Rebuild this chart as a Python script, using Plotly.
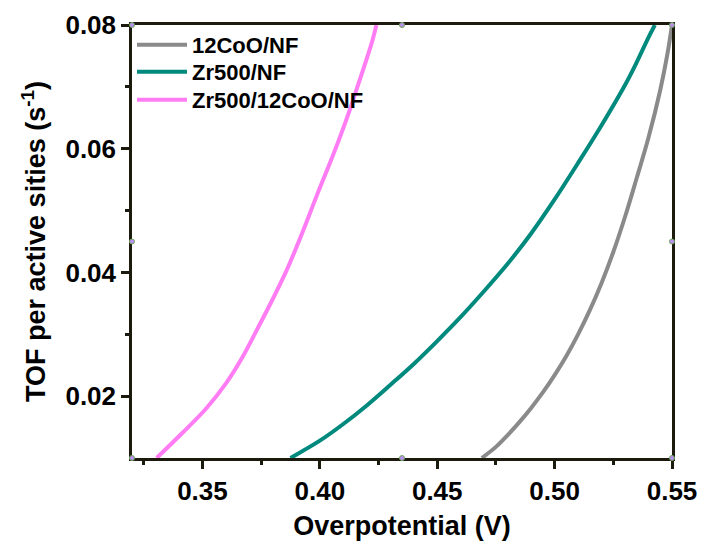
import plotly.graph_objects as go

# Overpotential (V) vs TOF per active site (s^-1)
coo_x = [0.469, 0.475, 0.480, 0.485, 0.490, 0.495, 0.500, 0.505, 0.510, 0.515,
         0.520, 0.525, 0.530, 0.535, 0.540, 0.545, 0.548, 0.550]
coo_y = [0.0100, 0.0118, 0.0137, 0.0158, 0.0181, 0.0206, 0.0234, 0.0265, 0.0300, 0.0339,
         0.0383, 0.0433, 0.0490, 0.0553, 0.0618, 0.0695, 0.0752, 0.0800]

zr_x = [0.3875, 0.400, 0.410, 0.420, 0.430, 0.440, 0.450, 0.460, 0.470, 0.480,
        0.490, 0.500, 0.510, 0.520, 0.530, 0.535, 0.540, 0.5427]
zr_y = [0.0100, 0.0128, 0.0155, 0.0185, 0.0218, 0.0252, 0.0289, 0.0328, 0.0370, 0.0414,
        0.0463, 0.0518, 0.0577, 0.0638, 0.0703, 0.0740, 0.0780, 0.0800]

zrcoo_x = [0.3305, 0.3413, 0.3516, 0.3601, 0.3669, 0.3733, 0.3797, 0.3857, 0.3905,
           0.3950, 0.3995, 0.4041, 0.4085, 0.4125, 0.4160, 0.4195, 0.4224, 0.4241]
zrcoo_y = [0.0100, 0.0140, 0.0180, 0.0221, 0.0262, 0.0308, 0.0355, 0.0402, 0.0445,
           0.0488, 0.0532, 0.0575, 0.0618, 0.0660, 0.0700, 0.0740, 0.0775, 0.0800]

series = [
    ("12CoO/NF", coo_x, coo_y, "#8a8a8a", "legend"),
    ("Zr500/NF", zr_x, zr_y, "#00897d", "legend2"),
    ("Zr500/12CoO/NF", zrcoo_x, zrcoo_y, "#ff7cf4", "legend3"),
]

x_ticks = [0.35, 0.40, 0.45, 0.50, 0.55]
y_ticks = [0.02, 0.04, 0.06, 0.08]

FONT = "Liberation Sans, Arial, sans-serif"
AXIS_COLOR = "#1c1a0c"

fig = go.Figure()
for name, xs, ys, color, lg in series:
    fig.add_trace(go.Scatter(
        x=xs, y=ys, mode="lines", name=name, legend=lg,
        line=dict(color=color, width=4, shape="spline", smoothing=1.0),
    ))

legend_style = dict(
    x=0.0, xanchor="left", yanchor="middle",
    bgcolor="rgba(0,0,0,0)", borderwidth=0,
    font=dict(family=FONT, size=22, color="black", weight="bold"),
    itemwidth=50,
)
plot_h = 547 - 25 - 89
fig.update_layout(
    legend=dict(y=1 - (45 - 25) / plot_h, **legend_style),
    legend2=dict(y=1 - (72 - 25) / plot_h, **legend_style),
    legend3=dict(y=1 - (100 - 25) / plot_h, **legend_style),
)

# Small selection handles at the frame corners and edge midpoints
for px, py in [(0, 0), (0.5, 0), (1, 0), (0, 0.5), (1, 0.5), (0, 1), (0.5, 1), (1, 1)]:
    fig.add_shape(type="circle", xref="paper", yref="paper",
                  xsizemode="pixel", ysizemode="pixel",
                  xanchor=px, yanchor=py, x0=-2.5, x1=2.5, y0=-2.5, y1=2.5,
                  fillcolor="#b98ff0", line=dict(color="#6fa65a", width=1),
                  layer="above")

axis_common = dict(
    showgrid=False, zeroline=False, showline=True, mirror=True, automargin=False,
    linecolor=AXIS_COLOR, linewidth=2.5,
    ticks="outside", ticklen=8, tickwidth=2.5, tickcolor=AXIS_COLOR,
    tickfont=dict(family=FONT, size=26, color="black", weight="bold"),
)

fig.update_xaxes(
    range=[0.32, 0.55], tickvals=x_ticks, ticktext=[f"{v:.2f}" for v in x_ticks],
    title=dict(text="Overpotential (V)", standoff=12,
               font=dict(family=FONT, size=27, color="black", weight="bold")),
    minor=dict(ticks="outside", ticklen=4, tickwidth=2.5, tickcolor=AXIS_COLOR,
               tickvals=[0.325, 0.375, 0.425, 0.475, 0.525]),
    **axis_common,
)
fig.update_yaxes(
    range=[0.01, 0.08], tickvals=y_ticks, ticktext=[f"{v:.2f}" for v in y_ticks],
    title=dict(text="TOF per active sities (s<sup>-1</sup>)", standoff=12,
               font=dict(family=FONT, size=27, color="black", weight="bold")),
    minor=dict(ticks="outside", ticklen=4, tickwidth=2.5, tickcolor=AXIS_COLOR,
               tickvals=[0.03, 0.05, 0.07]),
    **axis_common,
)

fig.update_layout(
    width=705, height=547,
    margin=dict(l=132, r=33, t=25, b=89),
    plot_bgcolor="white", paper_bgcolor="white",
    showlegend=True,
)

fig.write_html("out.html")
